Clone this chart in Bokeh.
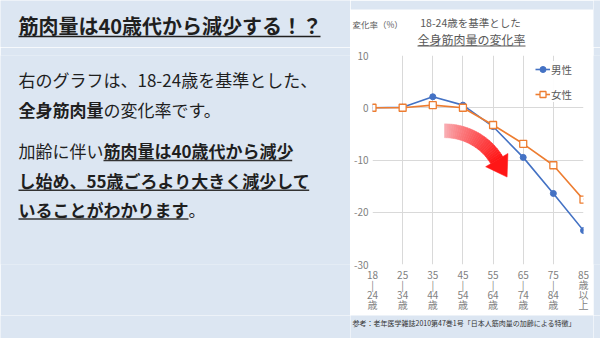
import math
from bokeh.plotting import figure
from bokeh.layouts import row, column
from bokeh.models import Range1d, FixedTicker, Label, Legend, LegendItem
from bokeh.embed import file_html
from bokeh.resources import INLINE

# ---------------- data ----------------
age_groups = ["18\n|\n24\n歳", "25\n|\n34\n歳", "35\n|\n44\n歳", "45\n|\n54\n歳",
              "55\n|\n64\n歳", "65\n|\n74\n歳", "75\n|\n84\n歳", "85\n歳\n以\n上"]
male = [0.0, 0.1, 2.1, 0.5, -3.6, -9.5, -16.4, -23.5]
female = [0.0, 0.0, 0.5, 0.0, -3.3, -6.9, -11.0, -17.6]
y_ticks = [10, 0, -10, -20, -30]
y_tick_labels = ["10", "0", "-10", "-20", "-30"]
series_names = ["男性", "女性"]

heading = "筋肉量は40歳代から減少する！？"
para_lines = [
    [("右のグラフは、18-24歳を基準とした、", False, False)],
    [("全身筋肉量", True, False), ("の変化率です。", False, False)],
    [("加齢に伴い", False, False), ("筋肉量は40歳代から減少", True, True)],
    [("し始め、55歳ごろより大きく減少して", True, True)],
    [("いることがわかります", True, True), ("。", False, False)],
]
chart_sub = "18-24歳を基準とした"
chart_title = "全身筋肉量の変化率"
y_label = "変化率（%）"
source_note = "参考：老年医学雑誌2010第47巻1号「日本人筋肉量の加齢による特徴」"

# ---------------- layout constants ----------------
W, H = 600, 338
PANEL_L, PANEL_R, PANEL_T, PANEL_B = 350, 593, 9, 315
FL, FR, FT, FB = 372, 583, 55, 266
TOP_H = 47
FONT = "Noto Sans CJK JP"
BG = "#DCE6F2"
MALE_C = "#4472C4"
FEMALE_C = "#ED7D31"
GRAY = "#7F7F7F"
TXT = "#1F1F1F"


def text_w(s, size):
    w = 0.0
    for ch in s:
        if ch.isdigit():
            w += 0.55
        elif ch == "-":
            w += 0.37
        elif ord(ch) < 128:
            w += 0.5
        else:
            w += 1.0
    return w * size


def blank_fig(x0, x1, y0, y1, bg, bt=0, bb=0):
    # canvas spans page box [x0,x1] x [y0,y1]; frame is inset by bt / bb vertically
    f = figure(width=x1 - x0, height=y1 - y0, x_range=Range1d(x0, x1),
               y_range=Range1d(y1 - bb, y0 + bt),
               min_border_left=0, min_border_right=0, min_border_top=bt, min_border_bottom=bb,
               x_axis_location=None, y_axis_location=None, toolbar_location=None,
               output_backend="svg", title=None, align="start")
    f.background_fill_color = bg
    f.border_fill_color = bg
    f.outline_line_color = None
    f.xgrid.visible = False
    f.ygrid.visible = False
    return f


def label(f, x, y, text, size, color, align="left", bold=False):
    f.add_layout(Label(x=x, y=y, text=text, text_font=FONT, text_font_size=f"{size}px",
                       text_font_style="bold" if bold else "normal", text_color=color,
                       text_align=align, text_baseline="middle"))


# ---------------- left text (three stacked pieces) ----------------
BT, BB = FT - TOP_H, PANEL_B - FB   # borders of the chart row (frames get aligned)
lf_top = blank_fig(0, PANEL_L, 0, TOP_H, BG)
lf_mid = blank_fig(0, PANEL_L, TOP_H, PANEL_B, BG, BT, BB)
lf_bot = blank_fig(0, PANEL_L, PANEL_B, H, BG)

label(lf_top, 18, 25, heading, 20, TXT, bold=True)
hw = text_w(heading, 20)
lf_top.segment(x0=[18], x1=[18 + hw], y0=[36], y1=[36], line_color="#1F1F1F", line_width=1.5)

line_y = [79, 110, 151, 181, 210]
PS = 17
ul_x0, ul_x1, ul_y = [], [], []
for segs, yy in zip(para_lines, line_y):
    x = 18.0
    for seg, bold, ul in segs:
        label(lf_mid, x, yy, seg, PS, TXT, bold=bold)
        w = text_w(seg, PS)
        if ul:
            ul_x0.append(x)
            ul_x1.append(x + w)
            ul_y.append(yy + 10)
        x += w
lf_mid.segment(x0=ul_x0, x1=ul_x1, y0=ul_y, y1=ul_y, line_color="#333333", line_width=1.5)

# ---------------- chart header ----------------
tf = blank_fig(PANEL_L, PANEL_R, 0, TOP_H, "white")
tf.quad(left=[PANEL_L], right=[PANEL_R], top=[0], bottom=[PANEL_T], fill_color=BG, line_color=None)
label(tf, 352, 23, y_label, 8.5, "#595959")
label(tf, 470, 22, chart_sub, 10.5, "#595959", align="center")
label(tf, 471, 38.5, chart_title, 12, "#595959", align="center")
tw = text_w(chart_title, 12)
tf.segment(x0=[471 - tw / 2], x1=[471 + tw / 2], y0=[45.5], y1=[45.5], line_color="#595959", line_width=1)

# ---------------- chart ----------------
X0, X1 = 0, len(male) - 1
Y0, Y1 = -30, 10
cf = figure(width=PANEL_R - PANEL_L, height=PANEL_B - TOP_H,
            x_range=Range1d(X0, X1), y_range=Range1d(Y0, Y1),
            min_border_left=FL - PANEL_L, min_border_right=PANEL_R - FR,
            min_border_top=BT, min_border_bottom=BB,
            output_backend="svg", toolbar_location=None, title=None, align="start")
cf.border_fill_color = "white"
cf.background_fill_color = "white"
cf.outline_line_color = None

for ax in (cf.xaxis, cf.yaxis):
    ax.axis_line_color = None
    ax.major_tick_line_color = None
    ax.minor_tick_line_color = None
    ax.major_tick_out = 0
    ax.major_tick_in = 0
    ax.minor_tick_out = 0
    ax.minor_tick_in = 0
    ax.major_label_text_font = FONT
    ax.major_label_text_font_size = "10px"
    ax.major_label_text_color = GRAY

cf.yaxis.ticker = FixedTicker(ticks=y_ticks)
cf.yaxis.major_label_overrides = dict(zip(y_ticks, y_tick_labels))
cf.yaxis.major_label_standoff = 4

xt = list(range(len(age_groups)))
cf.xaxis.ticker = FixedTicker(ticks=xt)
cf.xaxis.major_label_overrides = {i: age_groups[i] for i in xt}
cf.xaxis.major_label_standoff = 2
cf.xaxis.major_label_text_line_height = 0.68

cf.xgrid.ticker = FixedTicker(ticks=xt)
cf.ygrid.ticker = FixedTicker(ticks=y_ticks)
cf.xgrid.grid_line_color = "#D9D9D9"
cf.ygrid.grid_line_color = "#D9D9D9"


def dx(px):
    return X0 + (px - FL) / (FR - FL) * (X1 - X0)


def dy(py):
    return Y1 - (py - FT) / (FB - FT) * (Y1 - Y0)


# red curved arrow (decoration), shaped in page pixels
cx, cy = 444.0, 192.0
r_in, r_out = 54.0, 68.0
th_end = math.radians(59)
N = 30
c0 = (248, 178, 184)
c1 = (255, 22, 22)
xs, ys, cols = [], [], []
for i in range(N):
    a0 = th_end * i / N
    a1 = th_end * (i + 1) / N + 0.002
    pts = [(cx + r_out * math.sin(a0), cy - r_out * math.cos(a0)),
           (cx + r_out * math.sin(a1), cy - r_out * math.cos(a1)),
           (cx + r_in * math.sin(a1), cy - r_in * math.cos(a1)),
           (cx + r_in * math.sin(a0), cy - r_in * math.cos(a0))]
    xs.append([dx(q[0]) for q in pts])
    ys.append([dy(q[1]) for q in pts])
    t = ((i + 0.5) / N) ** 0.8
    cols.append("#%02x%02x%02x" % tuple(int(round(c0[k] + (c1[k] - c0[k]) * t)) for k in range(3)))
cf.patches(xs, ys, fill_color=cols, line_color=cols, line_width=0.5)
s, c = math.sin(th_end), math.cos(th_end)
rm = (r_in + r_out) / 2
hb_in = (cx + 48 * s, cy - 48 * c)
hb_out = (cx + 74 * s, cy - 74 * c)
tip = (cx + rm * s + 20 * c, cy - rm * c + 20 * s)
cf.patch([dx(hb_in[0]), dx(hb_out[0]), dx(tip[0])], [dy(hb_in[1]), dy(hb_out[1]), dy(tip[1])],
         fill_color="#FF1616", line_color="#FF1616", line_width=0.5)

ml = cf.line(xt, male, line_color=MALE_C, line_width=1.6)
mm = cf.scatter(xt, male, marker="circle", size=6, fill_color=MALE_C, line_color=MALE_C)
fl = cf.line(xt, female, line_color=FEMALE_C, line_width=1.6)
fm = cf.scatter(xt, female, marker="square", size=7, fill_color="white",
                line_color=FEMALE_C, line_width=1.3)

legend = Legend(items=[LegendItem(label=series_names[0], renderers=[ml, mm]),
                       LegendItem(label=series_names[1], renderers=[fl, fm])],
                location="top_right", margin=6, padding=0, spacing=9,
                glyph_height=16, label_height=16, glyph_width=15, label_standoff=1,
                label_width=26, border_line_color=None, background_fill_color="white",
                label_text_font=FONT, label_text_font_size="10.5px",
                label_text_color="#595959")
cf.add_layout(legend)

# ---------------- source note ----------------
bf = blank_fig(PANEL_L, PANEL_R, PANEL_B, H, BG)
label(bf, 352, 322.5, source_note, 7, "#333333")

# ---------------- right strip ----------------
rf_top = blank_fig(PANEL_R, W, 0, TOP_H, BG)
rf_mid = blank_fig(PANEL_R, W, TOP_H, PANEL_B, BG, BT, BB)
rf_bot = blank_fig(PANEL_R, W, PANEL_B, H, BG)

layout = column(
    row(lf_top, tf, rf_top, spacing=0, align="start"),
    row(lf_mid, cf, rf_mid, spacing=0, align="start"),
    row(lf_bot, bf, rf_bot, spacing=0, align="start"),
    spacing=0, align="start")
open("out.html", "w").write(file_html(layout, INLINE))
